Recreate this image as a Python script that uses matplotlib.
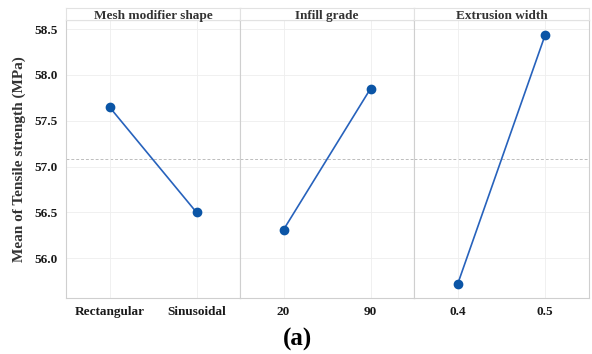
import matplotlib.pyplot as plt

# main-effects data
factors = ['Mesh modifier shape', 'Infill grade', 'Extrusion width']
levels = [['Rectangular', 'Sinusoidal'], ['20', '90'], ['0.4', '0.5']]
means = [[57.65, 56.50], [56.31, 57.85], [55.72, 58.44]]
grand_mean = 57.08
yticks = [56.0, 56.5, 57.0, 57.5, 58.0, 58.5]

plt.rcParams['font.family'] = ['Liberation Serif', 'DejaVu Serif']
plt.rcParams['font.weight'] = 'bold'

W, H = 592, 354
fig = plt.figure(figsize=(W / 100, H / 100), dpi=100)

edges = [66, 240, 414, 589]
top_px, bot_px = 20, 298
strip_top = 7.5
line_c = '#2762BC'
pt_c = '#0B55A6'
border_c = '#CFCFCF'

for i, fac in enumerate(factors):
    x0 = edges[i] / W
    w = (edges[i + 1] - edges[i]) / W
    ax = fig.add_axes([x0, 1 - bot_px / H, w, (bot_px - top_px) / H])
    xs = [0, 1]
    ax.set_xlim(-0.5, 1.5)
    ax.set_ylim(55.565, 58.6)
    ax.axhline(grand_mean, color='#BDBDBD', lw=0.7, ls=(0, (3, 2)), zorder=1)
    ax.plot(xs, means[i], color=line_c, lw=1.2, zorder=2)
    ax.plot(xs, means[i], 'o', color=pt_c, ms=6, zorder=3)
    ax.set_xticks(xs)
    ax.set_xticklabels(levels[i], fontsize=9.5, fontweight='bold', color='#1A1A1A')
    ax.set_yticks(yticks)
    ax.grid(True, color='#EEEEEE', lw=0.6, zorder=0)
    ax.tick_params(length=0, pad=6)
    for s in ax.spines.values():
        s.set_color(border_c)
        s.set_linewidth(0.8)
    if i == 0:
        ax.set_yticklabels([f'{v:.1f}' for v in yticks], fontsize=9.5,
                           fontweight='bold', color='#1A1A1A')
        ax.tick_params(axis='y', pad=6)
        ax.set_ylabel('Mean of Tensile strength (MPa)', fontsize=11,
                      fontweight='bold', color='#333333', labelpad=6)
    else:
        ax.set_yticklabels([])
    # strip on top of each panel
    sax = fig.add_axes([x0, 1 - top_px / H, w, (top_px - strip_top) / H])
    sax.set_xticks([])
    sax.set_yticks([])
    sax.set_facecolor('white')
    for s in sax.spines.values():
        s.set_color('#E2E2E2')
        s.set_linewidth(0.8)
    sax.text(0.5, 0.3, fac, ha='center', va='center', fontsize=9.5,
             fontweight='bold', color='#333333', transform=sax.transAxes)

fig.text(298 / W, 1 - 339 / H, '(a)', ha='center', va='center',
         fontsize=18, fontweight='bold')

fig.savefig('out.png', dpi=100)
